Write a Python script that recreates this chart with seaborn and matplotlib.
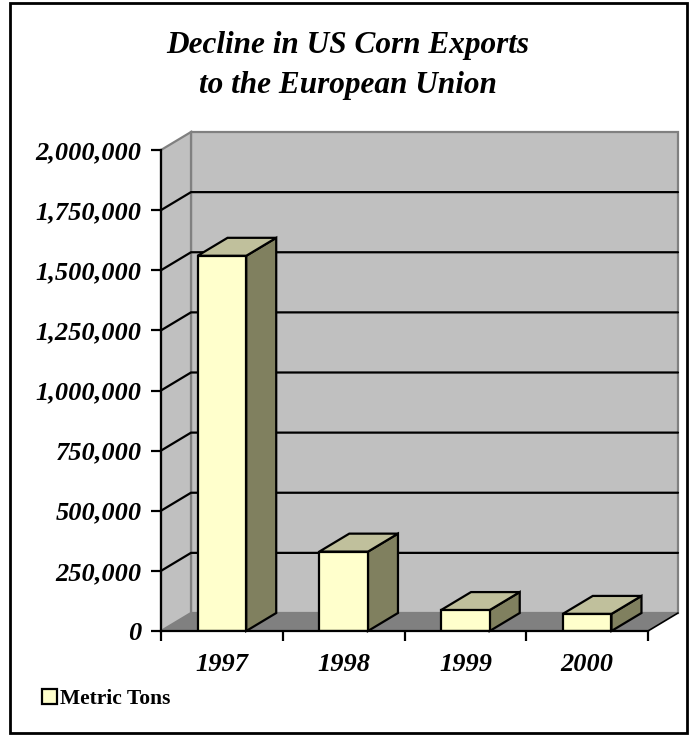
import matplotlib
matplotlib.use("Agg")
import matplotlib.pyplot as plt
import seaborn as sns
import pandas as pd
from matplotlib.patches import Polygon, Rectangle
from matplotlib.ticker import FixedLocator, FuncFormatter

years = ["1997", "1998", "1999", "2000"]
metric_tons = [1560000, 330000, 87000, 71000]
y_ticks = [0, 250000, 500000, 750000, 1000000, 1250000, 1500000, 1750000, 2000000]
title = "Decline in US Corn Exports\nto the European Union"
series_name = "Metric Tons"

sns.set_theme(style="white")
plt.rcParams["font.family"] = ["Liberation Serif", "DejaVu Serif"]
plt.rcParams["text.color"] = "black"
plt.rcParams["xtick.color"] = "black"
plt.rcParams["ytick.color"] = "black"
plt.rcParams["xtick.labelcolor"] = "black"
plt.rcParams["ytick.labelcolor"] = "black"

W, H = 696, 736
fig = plt.figure(figsize=(W / 100, H / 100), dpi=100)
# front plane of the 3-D box in pixels
L, R, B, T = 161, 648, 631, 150
ax = fig.add_axes([L / W, 1 - B / H, (R - L) / W, (B - T) / H])
ax.set_facecolor("none")

df = pd.DataFrame({"Year": years, "Tons": metric_tons})
sns.barplot(data=df, x="Year", y="Tons", color="#FFFFCC", saturation=1,
            width=0.4, edgecolor="black", linewidth=1.6, ax=ax,
            label=series_name, zorder=5)
bars = [q for q in ax.patches]
for p in bars:
    p.set_facecolor("#FFFFCC")

ymax = y_ticks[-1]
ax.set_xlim(-0.5, len(years) - 0.5)
ax.set_ylim(0, ymax)

# depth offset (pixels -> data)
dpx, dpy = 30, 18
dx = dpx * (len(years)) / (R - L)
dy = dpy * ymax / (B - T)
x0, x1 = -0.5, len(years) - 0.5

# walls and floor
ax.add_patch(Rectangle((x0 + dx, dy), x1 - x0, ymax, facecolor="#C0C0C0",
                       edgecolor="#808080", lw=1.6, zorder=0, clip_on=False))
ax.add_patch(Polygon([(x0, 0), (x0, ymax), (x0 + dx, ymax + dy), (x0 + dx, dy)],
                     closed=True, facecolor="#C0C0C0", edgecolor="#808080",
                     lw=1.6, zorder=0.5, clip_on=False))
ax.add_patch(Polygon([(x0, 0), (x1, 0), (x1 + dx, dy), (x0 + dx, dy)],
                     closed=True, facecolor="#808080", edgecolor="none",
                     zorder=1, clip_on=False))
ax.plot([x1, x1 + dx], [0, dy], color="black", lw=1.2, zorder=1.2, clip_on=False)

# gridlines on side and back walls
for v in y_ticks[1:-1]:
    ax.plot([x0, x0 + dx, x1 + dx], [v, v + dy, v + dy], color="black",
            lw=1.6, zorder=2, clip_on=False, solid_joinstyle="miter")

# 3-D faces of bars
for p in bars:
    bx, bw, bh = p.get_x(), p.get_width(), p.get_height()
    side = Polygon([(bx + bw, 0), (bx + bw + dx, dy), (bx + bw + dx, bh + dy), (bx + bw, bh)],
                   closed=True, facecolor="#80805F", edgecolor="black", lw=1.6,
                   zorder=4, clip_on=False, joinstyle="miter")
    top = Polygon([(bx, bh), (bx + dx, bh + dy), (bx + bw + dx, bh + dy), (bx + bw, bh)],
                  closed=True, facecolor="#C0C09C", edgecolor="black", lw=1.6,
                  zorder=4, clip_on=False, joinstyle="miter")
    ax.add_patch(side)
    ax.add_patch(top)

# axes styling
for s in ["top", "right"]:
    ax.spines[s].set_visible(False)
for s in ["left", "bottom"]:
    ax.spines[s].set_color("black")
    ax.spines[s].set_linewidth(1.6)
    ax.spines[s].set_zorder(6)

ax.yaxis.set_major_locator(FixedLocator(y_ticks))
ax.yaxis.set_major_formatter(FuncFormatter(lambda v, _: f"{int(v):,}"))
ax.tick_params(axis="y", which="major", left=True, length=7, width=1.6,
               color="black", pad=7, labelsize=19, labelcolor="black")
for lab in ax.get_yticklabels():
    lab.set_fontweight("bold")
    lab.set_fontstyle("italic")

ax.set_xticks([i - 0.5 for i in range(len(years) + 1)])
ax.set_xticklabels([])
ax.set_xticks(list(range(len(years))), minor=True)
ax.set_xticklabels(years, minor=True, fontsize=19, fontweight="bold",
                   fontstyle="italic", color="black")
ax.tick_params(axis="x", which="major", bottom=True, length=7, width=1.6, color="black")
ax.tick_params(axis="x", which="minor", bottom=False, length=0, pad=16)
ax.set_xlabel("")
ax.set_ylabel("")

fig.text(348 / W, 1 - 65 / H, title, ha="center", va="center", fontsize=22.5,
         fontweight="bold", fontstyle="italic", linespacing=1.5, color="black")

leg = ax.legend(loc="center left", bbox_to_anchor=(42 / W, 1 - 699 / H),
                bbox_transform=fig.transFigure, frameon=False,
                handlelength=0.7, handleheight=0.65, handletextpad=0.15,
                borderpad=0, borderaxespad=0,
                prop={"family": "Liberation Serif", "weight": "bold", "size": 15.5})
for t in leg.get_texts():
    t.set_color("black")

fig.patches.append(Rectangle((10 / W, 3 / H), 677 / W, 730 / H, transform=fig.transFigure,
                             fill=False, edgecolor="black", lw=2, figure=fig))

fig.savefig("out.png", dpi=100, facecolor="white")
